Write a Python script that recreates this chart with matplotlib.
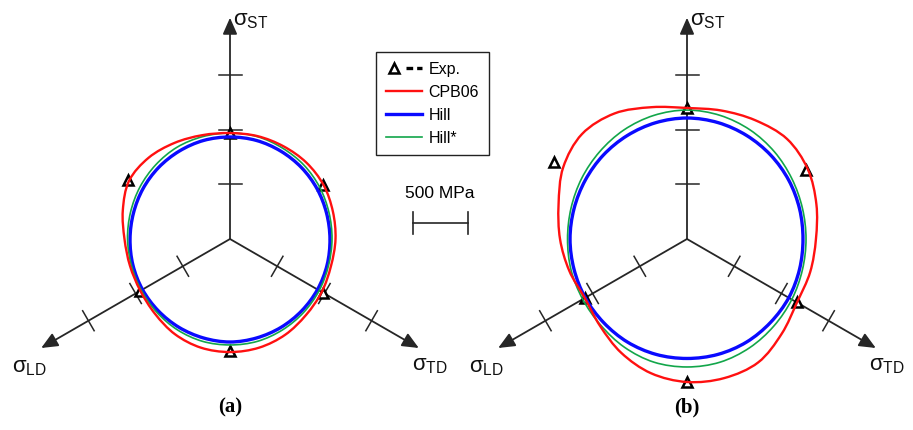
import numpy as np
import matplotlib.pyplot as plt
from matplotlib.path import Path
from matplotlib.patches import PathPatch
from matplotlib.lines import Line2D
from matplotlib.legend_handler import HandlerTuple

# polar sample angles (deg, 0 = right, counter-clockwise) in the pi-plane
angles = [0, 15, 30, 45, 60, 75, 90, 105, 120, 135, 150, 165,
          180, 195, 210, 225, 240, 255, 270, 285, 300, 315, 330, 345]

# panel (a) yield loci, radius in MPa
cpb06_a = [968, 977, 991, 991, 982, 977, 972, 986, 1018, 1055, 1069, 1018,
           968, 950, 950, 972, 1009, 1032, 1037, 1032, 1014, 986, 972, 959]
hill_a = [917, 917, 922, 927, 931, 936, 936, 936, 931, 927, 922, 917,
          917, 922, 927, 931, 936, 940, 945, 940, 936, 931, 927, 922]
hillstar_a = [936, 940, 950, 959, 963, 972, 972, 972, 972, 963, 954, 945,
              940, 936, 940, 950, 963, 972, 972, 972, 963, 954, 945, 936]

# panel (b) yield loci, radius in MPa
cpb06_b = [1183, 1229, 1280, 1298, 1257, 1220, 1202, 1252, 1330, 1362, 1312, 1220,
           1165, 1119, 1083, 1128, 1206, 1275, 1312, 1321, 1307, 1229, 1165, 1170]
hill_b = [1064, 1069, 1078, 1087, 1096, 1105, 1110, 1105, 1096, 1087, 1078, 1073,
          1073, 1073, 1078, 1083, 1092, 1096, 1096, 1096, 1092, 1083, 1078, 1069]
hillstar_b = [1092, 1096, 1110, 1133, 1156, 1174, 1183, 1174, 1156, 1133, 1115, 1101,
              1096, 1101, 1105, 1119, 1147, 1170, 1174, 1170, 1151, 1128, 1110, 1096]

# experimental points
exp_angles = [90, 30, 150, 210, 270, 330]
exp_a = [972, 986, 1083, 954, 1027, 982]
exp_b = [1202, 1261, 1404, 1078, 1312, 1165]

# stress axes: ST up, LD lower-left, TD lower-right
axis_angles = [90, 210, 330]
axis_lengths = [2030, 2000, 2000]
axis_names = ['ST', 'LD', 'TD']
tick_values = [500, 1000, 1500]

# layout in pixels
W, H = 913, 430
s = 54.5 / 500          # px per MPa
cx_a, cx_b, cy = 230, 687, 239

fig = plt.figure(figsize=(W / 100, H / 100), dpi=100)
ax = fig.add_axes([0, 0, 1, 1])
ax.set_xlim(-cx_a / s, (W - cx_a) / s)
ax.set_ylim(-(H - cy) / s, cy / s)
ax.axis('off')

x_b = (cx_b - cx_a) / s
axc = '#262626'


def closed_path(theta, r, x0):
    t = np.radians(theta)
    r = np.asarray(r, float)
    pts = np.column_stack([x0 + r * np.cos(t), r * np.sin(t)])
    n = len(pts)
    verts = [pts[0]]
    codes = [Path.MOVETO]
    for i in range(n):
        p0, p1, p2, p3 = pts[i - 1], pts[i], pts[(i + 1) % n], pts[(i + 2) % n]
        verts += [p1 + (p2 - p0) / 6, p2 - (p3 - p1) / 6, p2]
        codes += [Path.CURVE4] * 3
    return Path(verts, codes)


def draw_axes(x0):
    half = 11.5 / s
    for ang, length in zip(axis_angles, axis_lengths):
        t = np.radians(ang)
        ux, uy = np.cos(t), np.sin(t)
        ax.annotate('', xy=(x0 + length * ux, length * uy), xytext=(x0, 0),
                    arrowprops=dict(arrowstyle='-|>,head_length=0.5,head_width=0.22',
                                    color=axc, lw=1.3, mutation_scale=20,
                                    shrinkA=0, shrinkB=0),
                    zorder=1)
        for d in tick_values:
            px, py = x0 + d * ux, d * uy
            ax.plot([px + half * uy, px - half * uy], [py - half * ux, py + half * ux],
                    color=axc, lw=1.1, zorder=1)


def draw_panel(x0, red, blue, green, exp):
    draw_axes(x0)
    t = np.radians(exp_angles)
    ax.plot(x0 + np.asarray(exp) * np.cos(t), np.asarray(exp) * np.sin(t), ls='none',
            marker='^', ms=6.5, mfc='white', mec='black', mew=1.8, zorder=2)
    ax.add_patch(PathPatch(closed_path(angles, blue, x0), fill=False,
                           ec='#0a0aff', lw=2.4, zorder=3))
    ax.add_patch(PathPatch(closed_path(angles, green, x0), fill=False,
                           ec='#12a64a', lw=1.2, zorder=4))
    ax.add_patch(PathPatch(closed_path(angles, red, x0), fill=False,
                           ec='#ff1010', lw=1.7, zorder=5))


draw_panel(0, cpb06_a, hill_a, hillstar_a, exp_a)
draw_panel(x_b, cpb06_b, hill_b, hillstar_b, exp_b)


def px2data(px, py):
    return (px - cx_a) / s, (cy - py) / s


# axis labels
label_px = {
    'a': {'ST': (233, 21), 'LD': (12, 367), 'TD': (412, 366)},
    'b': {'ST': (690, 21), 'LD': (469, 367), 'TD': (869, 366)},
}
for panel in ['a', 'b']:
    for name in axis_names:
        x, y = px2data(*label_px[panel][name])
        ax.text(x, y, r'$\mathregular{σ_{%s}}$' % name, fontsize=16, ha='left',
                va='center', color='#111', family='Liberation Sans')

# panel titles
for px, lab in [(cx_a, '(a)'), (cx_b, '(b)')]:
    x, y = px2data(px, 407)
    ax.text(x, y, lab, fontsize=15, fontweight='bold', family='Liberation Serif',
            ha='center', va='center')

# scale bar
bx, by = px2data(413, 223)
cap = 11 / s
ax.plot([bx, bx + 500], [by, by], color=axc, lw=1.2)
ax.plot([bx, bx], [by - cap, by + cap], color=axc, lw=1.2)
ax.plot([bx + 500, bx + 500], [by - cap, by + cap], color=axc, lw=1.2)
tx, ty = px2data(440, 194)
ax.text(tx, ty, '500 MPa', fontsize=12.5, family='Liberation Sans', ha='center', va='center')

# legend
exp_handle = (Line2D([], [], ls='none', marker='^', ms=6.5, mfc='white', mec='black', mew=1.8),
              Line2D([], [], ls=(0, (2, 1.2)), color='black', lw=2.4))
handles = [exp_handle,
           Line2D([], [], color='#ff1010', lw=1.7),
           Line2D([], [], color='#0a0aff', lw=2.4),
           Line2D([], [], color='#12a64a', lw=1.2)]
labels = ['Exp.', 'CPB06', 'Hill', 'Hill*']
leg = ax.legend(handles, labels, loc='upper left', bbox_to_anchor=(376 / W, 1 - 52 / H),
                borderaxespad=0, fancybox=False, edgecolor='#222', framealpha=1,
                prop={'family': 'Liberation Sans', 'size': 11.5},
                handlelength=2.3, handletextpad=0.4, labelspacing=0.5, borderpad=0.6,
                handler_map={tuple: HandlerTuple(ndivide=None, pad=0.3)})
leg.get_frame().set_linewidth(1.0)

fig.savefig('out.png', dpi=100)
